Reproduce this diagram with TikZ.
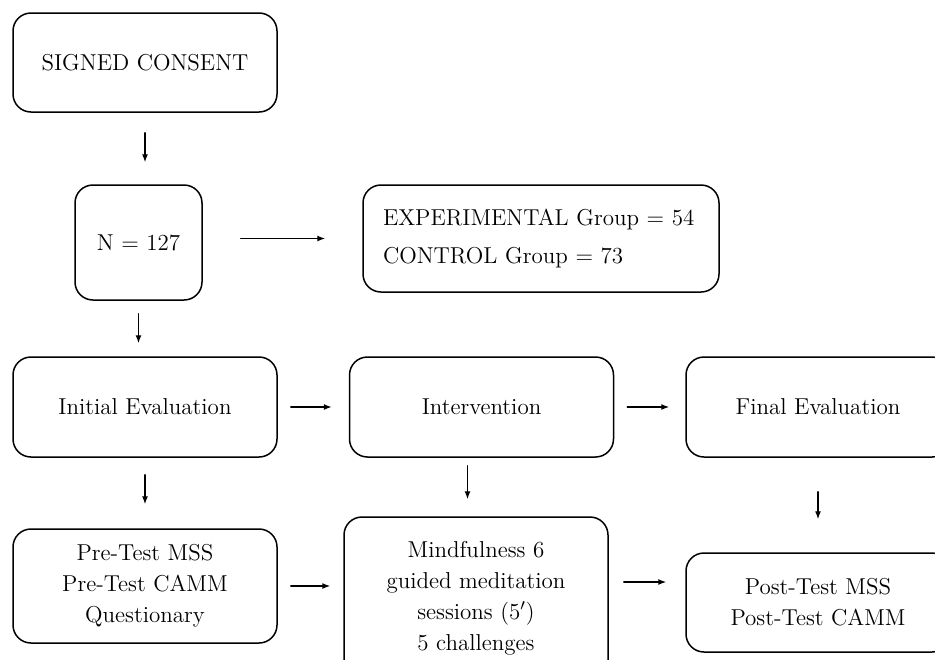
\documentclass[tikz,border=0pt]{standalone}
\usepackage{tikz}
\usetikzlibrary{arrows.meta,positioning}
\newcommand\stagefont{\fontsize{11.5}{15.5}\selectfont}
\tikzset{
  >={Latex[length=4pt,width=3pt]},
  stageBox/.style={draw,line width=0.75pt,rounded corners=9pt,fill=white,
                   font=\stagefont,align=center,inner sep=3pt,
                   minimum width=132pt,minimum height=50pt},
  flow/.style={->,line width=0.65pt,line cap=round},
}
\begin{document}
\begin{tikzpicture}[x=0.5pt,y=-0.5pt]
\clip (0,0) rectangle (935,659);

% Recruitment.
\node[stageBox,minimum height=49.5pt] (consent) at (145,62.5) {SIGNED CONSENT};
\node[stageBox,minimum width=63.5pt,minimum height=57.5pt]
      (total) at (138.5,242.5) {N = 127};
\node[stageBox,minimum width=178pt,minimum height=53.5pt,align=left,
      inner xsep=10pt,text width=158pt,font=\fontsize{11.5}{19}\selectfont]
      (groups) at (541,238.5) {EXPERIMENTAL Group = 54\\ CONTROL Group = 73};

% Phases.
\node[stageBox] (initEval)  at (145,407)   {Initial Evaluation};
\node[stageBox] (interv)    at (481.5,407) {Intervention};
\node[stageBox] (finalEval) at (818,407)   {Final Evaluation};

% Instruments and activities.
\node[stageBox,minimum height=57pt] (preTest) at (145,586)
      {Pre-Test MSS\\ Pre-Test CAMM\\ Questionary};
\node[stageBox,minimum height=81pt] (mindful) at (476,598)
      {Mindfulness 6\\ guided meditation\\ sessions (5$'$)\\ 5 challenges};
\node[stageBox,minimum height=49.5pt] (postTest) at (818,602.5)
      {Post-Test MSS\\ Post-Test CAMM};

\draw[flow,shorten <=10pt,shorten >=11pt]
  (consent.south) -- (consent.south |- total.north);
\draw[flow,shorten <=19pt,shorten >=18.5pt]
  (total.east |- groups.west) -- (groups.west);
\draw[flow,shorten <=6.5pt,shorten >=6.5pt]
  (total.south) -- (total.south |- initEval.north);

\draw[flow,shorten <=6.5pt,shorten >=8.5pt] (initEval.east) -- (interv.west);
\draw[flow,shorten <=6.5pt,shorten >=8pt] (interv.east) -- (finalEval.west);

\draw[flow,shorten <=8.5pt,shorten >=12pt]
  (initEval.south) -- (initEval.south |- preTest.north);
\draw[flow,shorten <=4pt,shorten >=8.5pt]
  ([xshift=-7pt]interv.south) -- ([xshift=-7pt]interv.south |- mindful.north);
\draw[flow,shorten <=17pt,shorten >=16.5pt]
  (finalEval.south) -- (finalEval.south |- postTest.north);

\draw[flow,shorten <=6.5pt,shorten >=6.5pt]
  (preTest.east) -- (preTest.east -| mindful.west);
\draw[flow,shorten <=7.5pt,shorten >=9.5pt]
  ([yshift=8pt]mindful.east) -- ([yshift=10.25pt]postTest.west);

\end{tikzpicture}
\end{document}
